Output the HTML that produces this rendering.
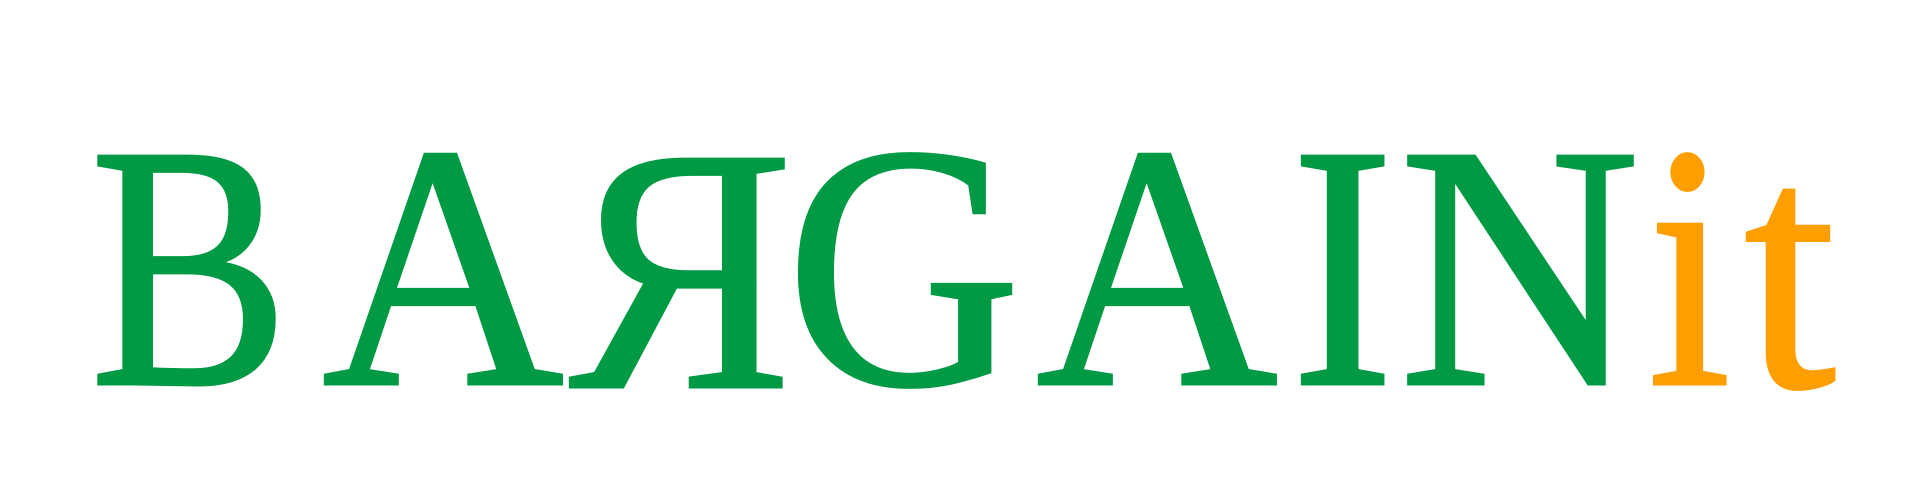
<!DOCTYPE html>
<html><head><meta charset="utf-8"><style>
html,body{margin:0;padding:0;background:#fff;width:1920px;height:500px;overflow:hidden}
svg{display:block}
text{font-family:"Liberation Serif",serif;font-size:348px}
</style></head><body>
<svg width="1920" height="500">
<g fill="#009944" stroke="#009944" stroke-width="3">
<text x="90" y="384" textLength="199" lengthAdjust="spacingAndGlyphs">B</text>
<text x="322" y="384" textLength="242" lengthAdjust="spacingAndGlyphs">A</text>
<text x="569" y="387" textLength="224" lengthAdjust="spacingAndGlyphs">Я</text>
<text x="786" y="384" textLength="235" lengthAdjust="spacingAndGlyphs">G</text>
<text x="1036" y="384" textLength="242" lengthAdjust="spacingAndGlyphs">A</text>
<text x="1291" y="384" textLength="103" lengthAdjust="spacingAndGlyphs">I</text>
<text x="1399" y="384" textLength="241" lengthAdjust="spacingAndGlyphs">N</text>
</g>
<g fill="#ff9e00" stroke="#ff9e00" stroke-width="3">
<text x="1648" y="384" textLength="83" lengthAdjust="spacingAndGlyphs">i</text>
<text x="1744" y="386" textLength="92" lengthAdjust="spacingAndGlyphs">t</text>
</g>
</svg>
</body></html>
